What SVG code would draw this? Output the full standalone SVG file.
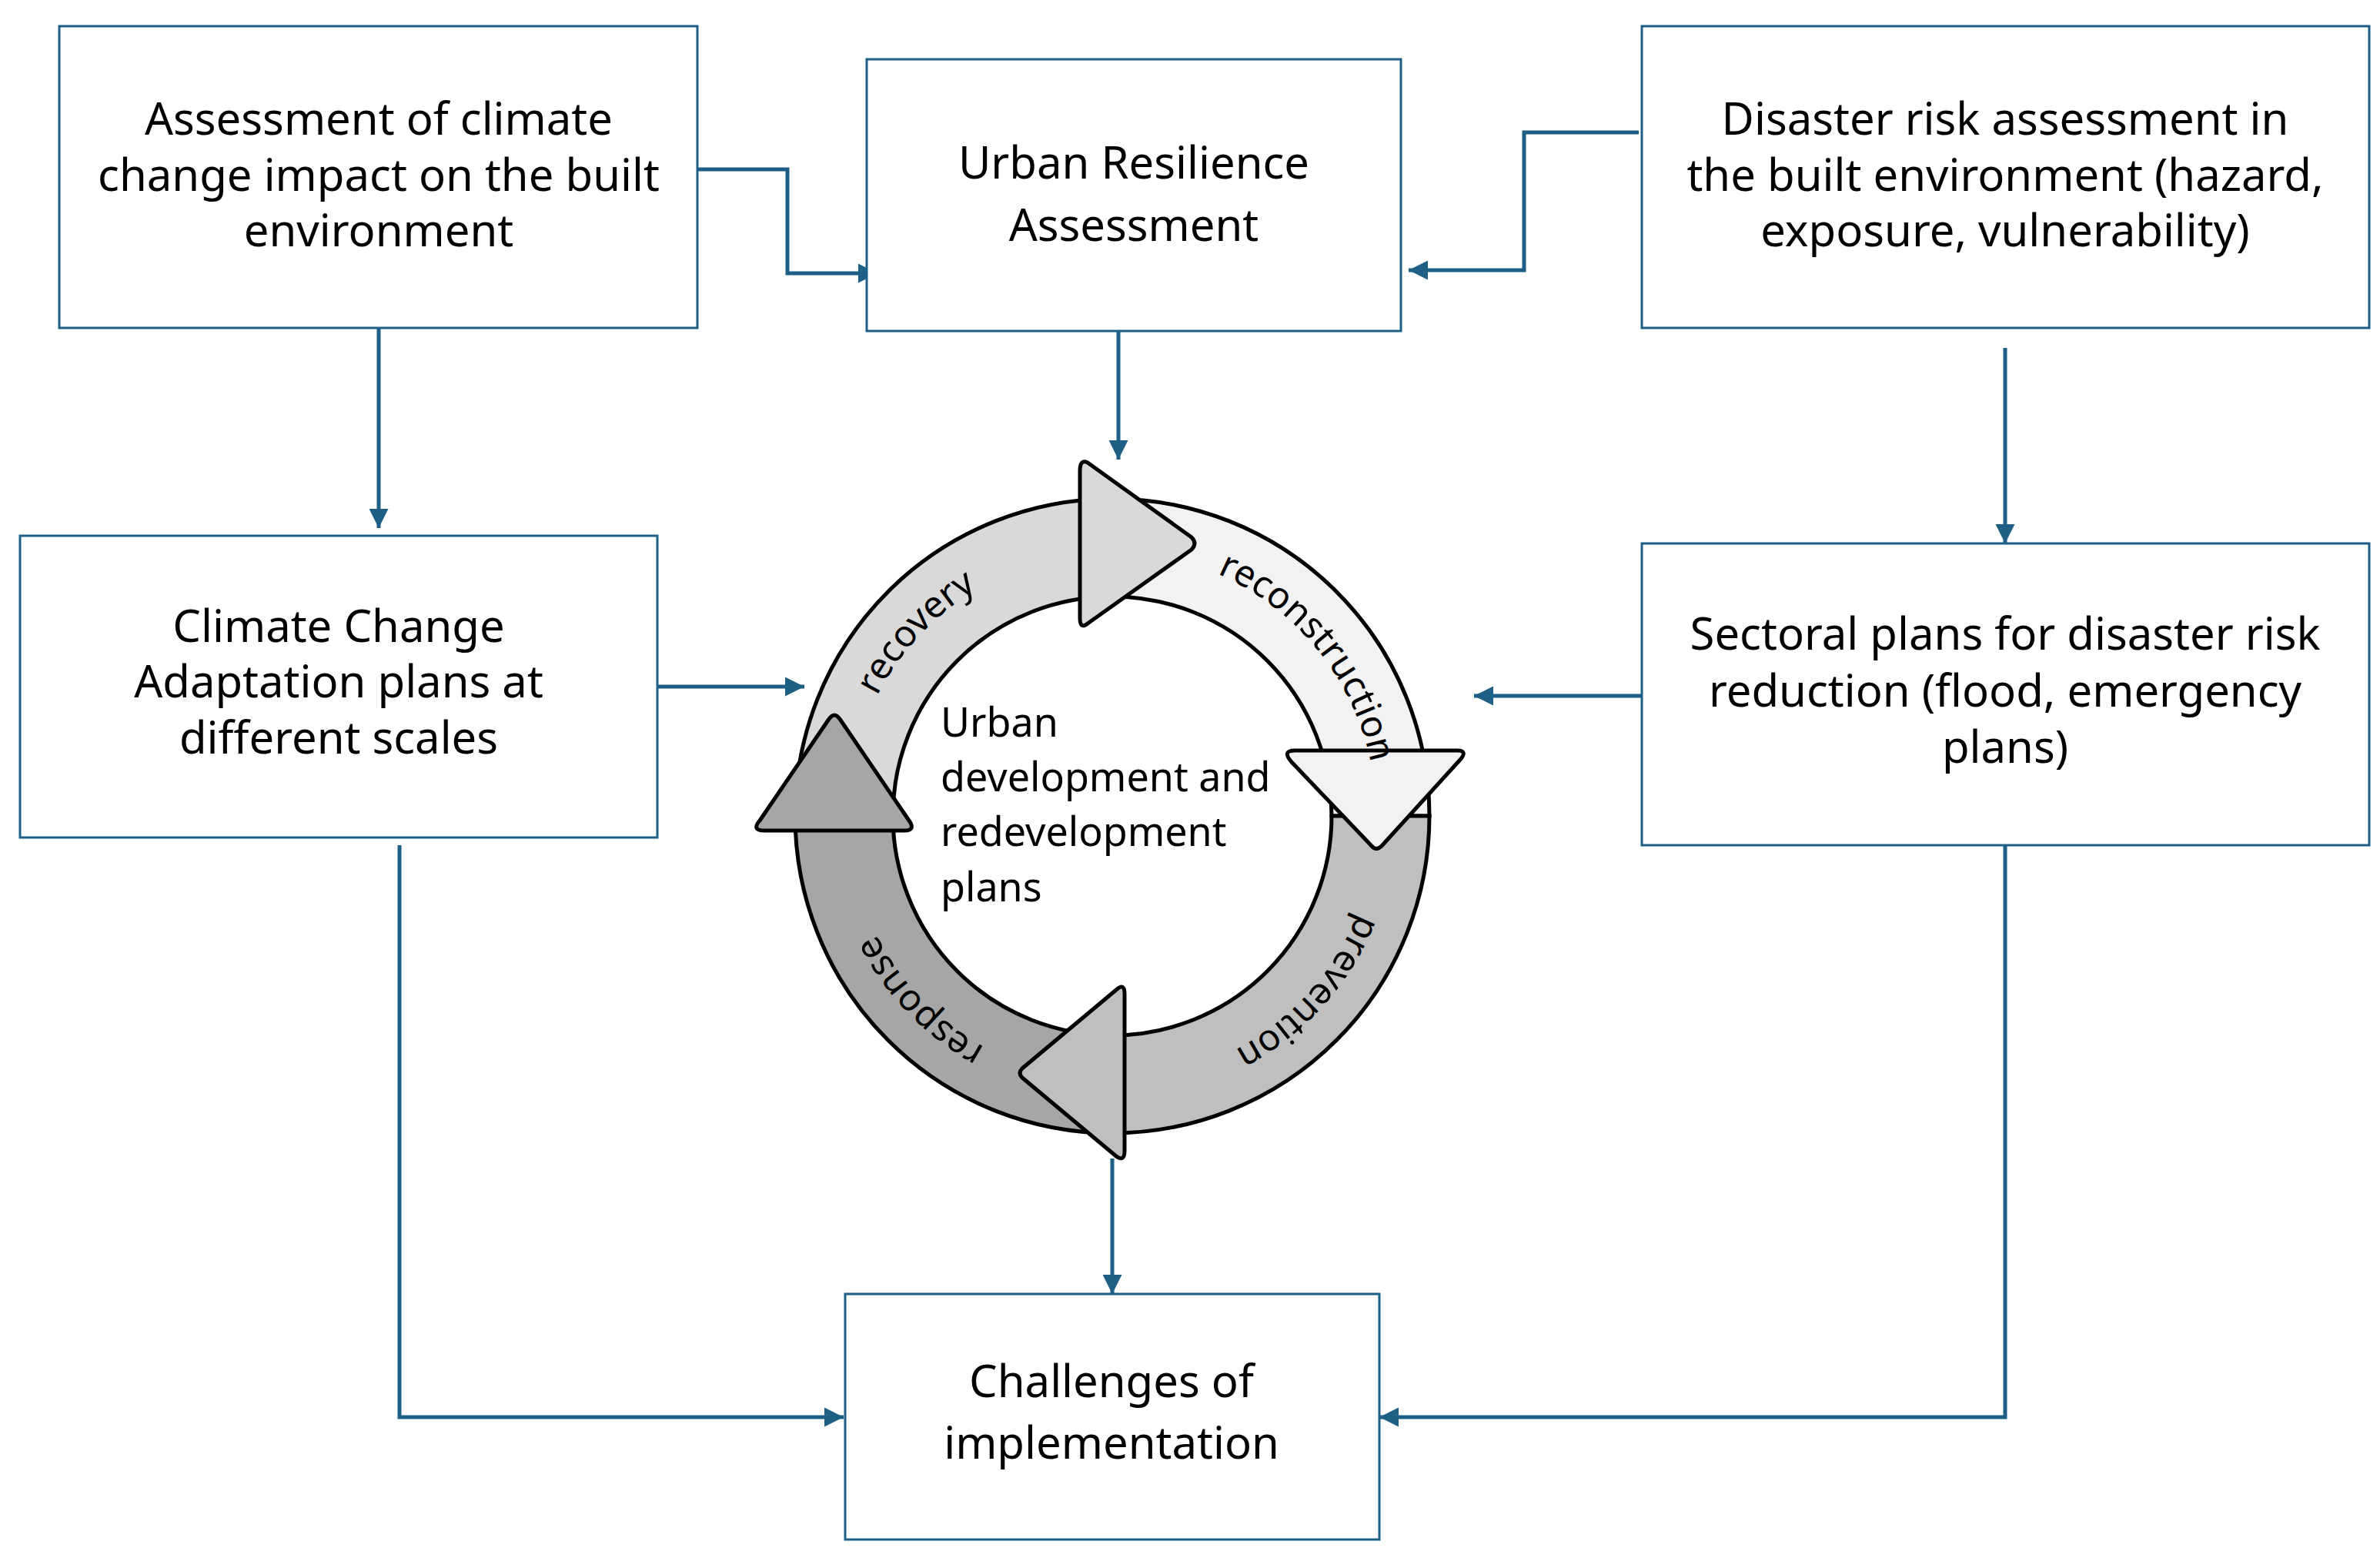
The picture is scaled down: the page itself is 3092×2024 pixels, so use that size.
<svg xmlns="http://www.w3.org/2000/svg" width="3092" height="2024" viewBox="0 0 3092 2024">
<style>
.box{fill:#fff;stroke:#1d5f85;stroke-width:3}
.bt{font-family:"Noto Sans","Liberation Sans",sans-serif;font-size:58px;fill:#000;text-anchor:middle}
.con{fill:none;stroke:#1d5f85;stroke-width:5}
.seg{stroke:#000;stroke-width:5}
.ah2{stroke:#000;stroke-width:5;stroke-linejoin:round}
.rl{font-family:"Noto Sans","Liberation Sans",sans-serif;font-size:48px;fill:#000}
.ct{font-family:"Noto Sans","Liberation Sans",sans-serif;font-size:52px;fill:#000}
</style>
<defs>
<marker id="ah" viewBox="0 0 10 10" refX="10" refY="5" markerWidth="5" markerHeight="5" orient="auto" markerUnits="strokeWidth"><path d="M0,0 L10,5 L0,10 z" fill="#1d5f85"/></marker>
<path id="pc" d="M1445,1060 m-343,0 a343,343 0 1,1 686,0 a343,343 0 1,1 -686,0"/>
</defs>
<rect width="3092" height="2024" fill="#fff"/>
<g id="connectors">
<path class="con" d="M906,220 H1023 V355 H1140" marker-end="url(#ah)"/>
<path class="con" d="M2129,172 H1980 V351 H1830" marker-end="url(#ah)"/>
<path class="con" d="M1453,430 V597" marker-end="url(#ah)"/>
<path class="con" d="M492,426 V686" marker-end="url(#ah)"/>
<path class="con" d="M2605,452 V706" marker-end="url(#ah)"/>
<path class="con" d="M854,892 H1045" marker-end="url(#ah)"/>
<path class="con" d="M2133,904 H1915" marker-end="url(#ah)"/>
<path class="con" d="M1445,1505 V1681" marker-end="url(#ah)"/>
<path class="con" d="M519,1098 V1841 H1096" marker-end="url(#ah)"/>
<path class="con" d="M2605,1098 V1841 H1792" marker-end="url(#ah)"/>
</g>
<g id="n1"><rect class="box" x="77" y="34" width="829" height="392"/>
<text class="bt" x="492" y="175">Assessment of climate</text><text class="bt" x="492" y="248">change impact on the built</text><text class="bt" x="492" y="320">environment</text></g>
<g id="n2"><rect class="box" x="1126" y="77" width="694" height="353"/>
<text class="bt" x="1473" y="232">Urban Resilience</text><text class="bt" x="1473" y="313">Assessment</text></g>
<g id="n3"><rect class="box" x="2133" y="34" width="945" height="392"/>
<text class="bt" x="2605" y="175">Disaster risk assessment in</text><text class="bt" x="2605" y="248">the built environment (hazard,</text><text class="bt" x="2605" y="320">exposure, vulnerability)</text></g>
<g id="n4"><rect class="box" x="26" y="696" width="828" height="392"/>
<text class="bt" x="440" y="834">Climate Change</text><text class="bt" x="440" y="906">Adaptation plans at</text><text class="bt" x="440" y="979">different scales</text></g>
<g id="n5"><rect class="box" x="2133" y="706" width="945" height="392"/>
<text class="bt" x="2605" y="844">Sectoral plans for disaster risk</text><text class="bt" x="2605" y="918">reduction (flood, emergency</text><text class="bt" x="2605" y="991">plans)</text></g>
<g id="n6"><rect class="box" x="1098" y="1681" width="694" height="319"/>
<text class="bt" x="1444" y="1815">Challenges of</text><text class="bt" x="1444" y="1895">implementation</text></g>
<g id="cycle">
<path class="seg" fill="#d9d9d9" d="M1033,1060 A412,412 0 0,1 1445,648 L1445,775 A285,285 0 0,0 1160,1060 Z"/>
<path class="seg" fill="#f2f2f2" d="M1445,648 A412,412 0 0,1 1857,1060 L1730,1060 A285,285 0 0,0 1445,775 Z"/>
<path class="seg" fill="#bfbfbf" d="M1857,1060 A412,412 0 0,1 1445,1472 L1445,1345 A285,285 0 0,0 1730,1060 Z"/>
<path class="seg" fill="#a6a6a6" d="M1445,1472 A412,412 0 0,1 1033,1060 L1160,1060 A285,285 0 0,0 1445,1345 Z"/>
<path class="ah2" fill="#d9d9d9" d="M1413,601 Q1403,596 1403,612 L1403,803 Q1403,818 1413,810 L1548,714 Q1556,706 1548,698 Z"/>
<path class="ah2" fill="#f2f2f2" d="M1682,975 Q1665,975 1678,990 L1782,1099 Q1788,1106 1795,1099 L1896,988 Q1908,975 1893,975 Z"/>
<path class="ah2" fill="#bfbfbf" d="M1461,1291 Q1461,1276 1450,1286 L1328,1388 Q1322,1394 1328,1400 L1450,1502 Q1461,1510 1461,1495 Z"/>
<path class="ah2" fill="#a6a6a6" d="M993,1079 Q976,1079 987,1066 L1077,934 Q1084,924 1091,934 L1181,1066 Q1190,1079 1175,1079 Z"/>
<text class="rl"><textPath href="#pc" startOffset="7.5%">recovery</textPath></text>
<text class="rl"><textPath href="#pc" startOffset="31.5%">reconstruction</textPath></text>
<text class="rl"><textPath href="#pc" startOffset="56%">prevention</textPath></text>
<text class="rl"><textPath href="#pc" startOffset="83%">response</textPath></text>
<text class="ct" x="1222" y="957">Urban</text><text class="ct" x="1222" y="1028">development and</text><text class="ct" x="1222" y="1099">redevelopment</text><text class="ct" x="1222" y="1171">plans</text>
</g>
</svg>
